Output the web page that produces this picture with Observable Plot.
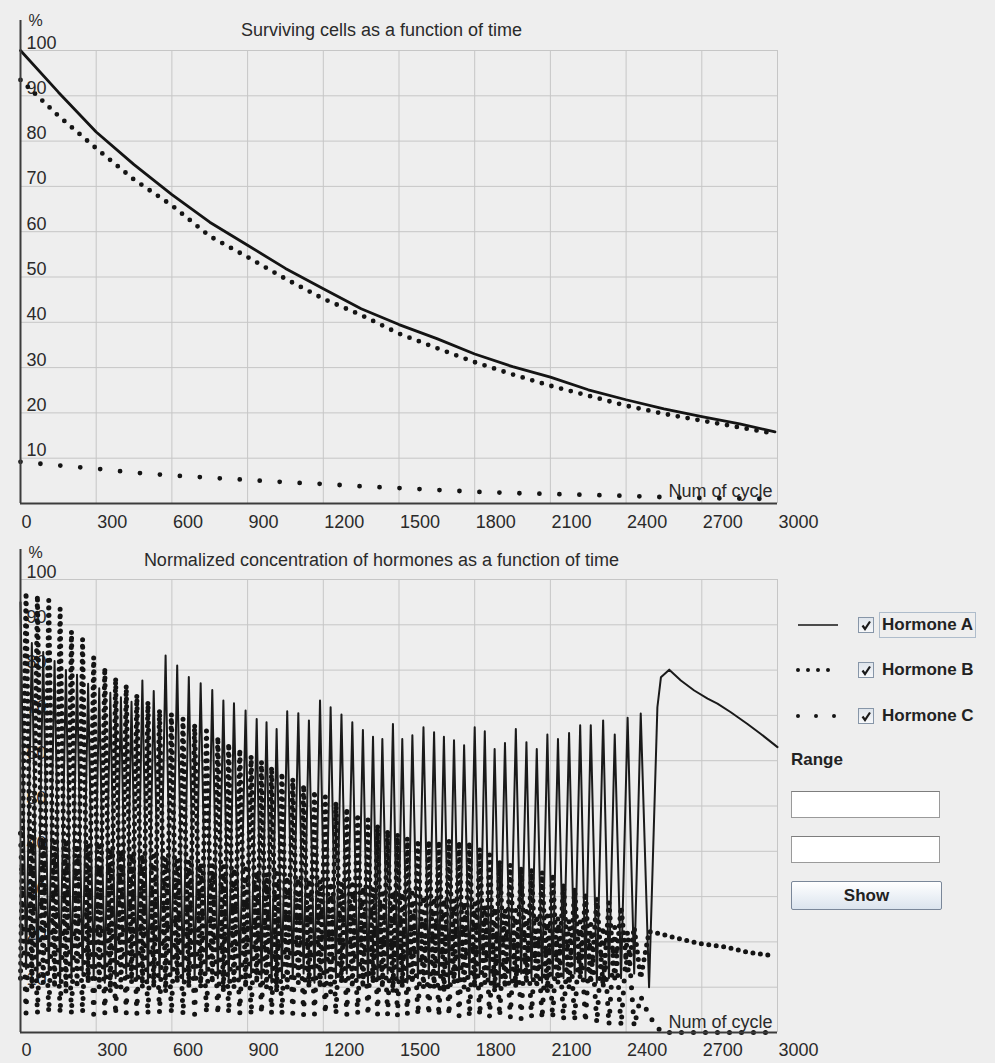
<!DOCTYPE html>
<html><head><meta charset="utf-8">
<script src="https://cdn.jsdelivr.net/npm/d3@7"></script>
<script src="https://cdn.jsdelivr.net/npm/@observablehq/plot@0.6"></script>
<style>
html,body{margin:0;padding:0;background:#eeeeee;}
#root{position:relative;width:995px;height:1063px;overflow:hidden;background:#eeeeee;font-family:"Liberation Sans",Arial,sans-serif;color:#222;}
#top,#bottom{position:absolute;left:0;}
#top{top:0}
#bottom{top:530px}
.abs{position:absolute;}
.lbl{font-weight:bold;font-size:17px;line-height:24px;white-space:nowrap;color:#222;}
.chk{position:absolute;width:16px;height:16px;box-sizing:border-box;border:1px solid #8796a8;background:linear-gradient(#dfe5ec,#f7f8fa);}
.field{position:absolute;left:791px;width:149px;height:27px;box-sizing:border-box;border:1px solid #9a9a9a;border-top-color:#7d7d7d;background:#fff;}
.btn{position:absolute;left:791px;top:881px;width:151px;height:29px;box-sizing:border-box;border:1px solid #7a8799;border-radius:2px;background:linear-gradient(#ffffff,#dbe4ee);text-align:center;font-weight:bold;font-size:17px;line-height:27px;color:#222;}
</style></head><body><div id="root">
<div id="top"></div>
<div id="bottom"></div>
</div>
<script>
// ---------- axes ----------
const xTicks = [0, 300, 600, 900, 1200, 1500, 1800, 2100, 2400, 2700, 3000];
const yTicks = [10, 20, 30, 40, 50, 60, 70, 80, 90, 100];

// ---------- top chart: surviving cells ----------
const cellCycles = [0, 150, 300, 450, 600, 750, 900, 1050, 1200, 1350, 1500, 1650, 1800, 1950, 2100, 2250, 2400, 2550, 2700, 2850, 2990];
const cellsA = [100, 90.8, 82.0, 74.8, 68.2, 62.1, 57.0, 51.9, 47.4, 43.0, 39.5, 36.4, 33.0, 30.2, 27.9, 25.1, 22.9, 20.9, 19.2, 17.6, 15.8];
const cellsB = [93.5, 85.6, 78.4, 71.5, 65.8, 59.0, 54.4, 49.6, 45.2, 41.6, 37.5, 34.3, 31.2, 28.5, 26.0, 23.8, 21.6, 19.8, 18.3, 16.8, 15.4];
const cellsC = [9.2, 8.4, 7.7, 6.8, 6.2, 5.7, 5.2, 4.7, 4.3, 3.8, 3.4, 3.0, 2.6, 2.3, 2.1, 1.9, 1.7, 1.4, 1.2, 1.1, 1.0];

// ---------- bottom chart: hormones ----------
const peakCycles = [0, 45, 90, 135, 180, 224, 268, 312, 356, 398, 440, 483, 528, 575, 621, 667, 714, 760, 804, 846, 892, 936, 975, 1015, 1057, 1101, 1143, 1187, 1229, 1272, 1315, 1357, 1397, 1434, 1476, 1513, 1553, 1597, 1639, 1678, 1718, 1758, 1800, 1840, 1879, 1920, 1963, 2005, 2046, 2088, 2130, 2174, 2218, 2260, 2309, 2355, 2406, 2458];
const troughCycles = [22, 67, 112, 157, 202, 246, 290, 334, 377, 419, 461, 505, 551, 598, 644, 690, 737, 782, 825, 869, 914, 955, 995, 1036, 1079, 1122, 1165, 1208, 1250, 1293, 1336, 1377, 1415, 1455, 1494, 1533, 1575, 1618, 1658, 1698, 1738, 1779, 1820, 1859, 1899, 1941, 1984, 2025, 2067, 2109, 2152, 2196, 2239, 2284, 2332, 2380, 2432, 2491];

const hormoneAPeaks = [95, 86, 84, 82, 80, 79, 77, 76, 75, 74, 73, 77.7, 75.4, 83.2, 81.0, 78.5, 77.1, 75.6, 73.3, 72.7, 71.1, 69.2, 68.5, 67.0, 70.9, 70.5, 68.9, 73.3, 71.8, 70.2, 68.5, 66.8, 65.3, 64.8, 68.1, 64.8, 65.6, 67.4, 66.3, 65.3, 64.5, 63.4, 67.4, 66.5, 62.6, 63.9, 67.0, 64.1, 62.6, 65.8, 64.8, 66.1, 67.8, 67.8, 68.9, 65.8, 69.5, 70.4];
const hormoneATroughs = [14, 12, 13, 11, 12, 13, 12, 11, 12, 13, 12, 11, 12, 13, 11, 12, 13, 12, 11, 12, 13, 12, 11, 12, 12, 13, 11, 12, 12, 13, 12, 11, 12, 13, 12, 11, 12, 12, 13, 11, 12, 12, 13, 12, 11, 12, 13, 12, 11, 12, 12, 13, 12, 11, 12, 12, 13, 10];
const hormoneATailCycles = [2524, 2538, 2571, 2617, 2670, 2723, 2762, 2815, 2881, 2934, 3000];
const hormoneATailValues = [71.8, 78.4, 80.1, 77.7, 75.5, 73.7, 72.6, 70.7, 68.1, 65.9, 63.0];

const hormoneBPeaks = [97.2, 96.5, 95.4, 93.5, 88.5, 86.8, 82.8, 80.5, 78.3, 76.6, 74.5, 73.0, 71.2, 70.3, 69.3, 68.0, 66.6, 65.2, 63.8, 62.5, 61.0, 59.8, 58.6, 57.3, 56.0, 54.6, 53.3, 52.0, 50.8, 49.5, 48.2, 47.0, 45.8, 44.6, 43.8, 42.9, 42.5, 42.3, 42.2, 42.4, 42.1, 42.0, 40.5, 39.2, 37.9, 37.0, 36.5, 36.0, 35.4, 35.0, 32.8, 31.8, 30.8, 29.6, 28.6, 27.7, 23.2, 22.3];
const hormoneBTroughs = [12, 10, 11, 10, 9, 10, 11, 10, 9, 10, 11, 10, 10, 9, 11, 10, 10, 11, 9, 10, 10, 11, 10, 9, 10, 11, 10, 10, 9, 11, 10, 10, 11, 10, 9, 10, 11, 10, 10, 9, 11, 10, 10, 11, 9, 10, 10, 11, 10, 9, 11, 10, 12, 11, 10, 12, 13, 12];
const hormoneBTailCycles = [2525, 2604, 2696, 2802, 2881, 2974];
const hormoneBTailValues = [21.9, 20.8, 19.6, 18.8, 17.7, 17.0];

const hormoneCPeaks = [44, 43.5, 43.2, 42.6, 42.3, 41.8, 41.5, 41.0, 40.6, 40.2, 39.8, 39.5, 39.0, 38.7, 38.3, 38.0, 37.6, 37.3, 36.9, 36.6, 36.2, 35.9, 35.5, 35.2, 34.8, 34.5, 34.2, 33.8, 33.5, 33.2, 32.9, 32.5, 32.2, 31.9, 31.5, 31.2, 30.9, 30.5, 30.2, 29.8, 29.5, 29.1, 28.7, 28.3, 27.9, 27.5, 27.1, 26.7, 26.3, 25.9, 25.5, 25.0, 24.6, 24.2, 23.7, 23.2, 22.5, 8];
const hormoneCTroughs = [4.2, 4.0, 4.3, 4.1, 3.9, 4.2, 4.0, 4.1, 3.8, 4.2, 4.0, 3.9, 4.2, 4.1, 3.8, 4.0, 4.2, 3.9, 4.1, 4.0, 3.8, 4.1, 4.0, 3.9, 4.2, 3.8, 4.0, 4.1, 3.9, 3.8, 4.0, 3.7, 3.9, 3.8, 3.6, 3.9, 3.7, 3.8, 3.5, 3.7, 3.6, 3.4, 3.6, 3.3, 3.5, 3.2, 3.0, 3.3, 2.9, 3.1, 2.7, 2.5, 2.2, 2.0, 1.6, 1.4, 1.3, 3.7];
const hormoneCTailCycles = [2540, 2990];
const hormoneCTailValues = [0, 0];

// ---------- build tables ----------
const rows = (c, v) => c.map((cycle, i) => ({cycle, value: v[i]}));
function alternate(c1, v1, c2, v2) {
  const out = [];
  c1.forEach((c, i) => { out.push({cycle: c, value: v1[i]}); out.push({cycle: c2[i], value: v2[i]}); });
  return out;
}
const hormoneA = alternate(peakCycles, hormoneAPeaks, troughCycles, hormoneATroughs).concat(rows(hormoneATailCycles, hormoneATailValues));
const hormoneB = alternate(peakCycles, hormoneBTroughs, troughCycles, hormoneBPeaks).concat(rows(hormoneBTailCycles, hormoneBTailValues));
const hormoneC = alternate(peakCycles, hormoneCPeaks, troughCycles, hormoneCTroughs).concat(rows(hormoneCTailCycles, hormoneCTailValues));

const INK = "#141414";
const FONT = "Liberation Sans, Arial, sans-serif";

function frame(o) {
  return Plot.plot({
    width: 830, height: o.height,
    marginLeft: 20, marginRight: 53, marginTop: o.mt, marginBottom: o.mb,
    x: {domain: [0, 3000], axis: null},
    y: {domain: [0, 100], axis: null},
    style: {background: "transparent", fontFamily: FONT, color: "#222", overflow: "visible"},
    marks: [
      Plot.gridX(xTicks, {stroke: "#c6c6c6", strokeOpacity: 1}),
      Plot.gridY(yTicks, {stroke: "#c6c6c6", strokeOpacity: 1}),
      Plot.text(yTicks, {y: d => d, text: d => String(d), frameAnchor: "left", textAnchor: "start", lineAnchor: "bottom", dx: 6, dy: -2, fontSize: 18, fill: "#2a2a2a"}),
      ...o.data,
      Plot.ruleY([0], {stroke: "#3c3c3c", strokeWidth: 2}),
      Plot.ruleX([0], {stroke: "#3c3c3c", strokeWidth: 2, insetTop: -30}),
      Plot.text(xTicks, {x: d => d, text: d => String(d), frameAnchor: "bottom", textAnchor: "start", lineAnchor: "bottom", dx: 1, dy: o.tickDy, fontSize: 18, fill: "#2a2a2a"}),
      Plot.text([o.title], {frameAnchor: "top-left", textAnchor: "middle", lineAnchor: "bottom", dx: 361, dy: o.titleDy, fontSize: 18, fill: "#2a2a2a"}),
      Plot.text(["%"], {frameAnchor: "top-left", textAnchor: "start", lineAnchor: "bottom", dx: 8, dy: o.pctDy, fontSize: 16, fill: "#2a2a2a"}),
      Plot.text(["Num of cycle"], {frameAnchor: "bottom-right", textAnchor: "end", lineAnchor: "bottom", dx: -5, dy: o.numDy, fontSize: 18, fill: "#2a2a2a"})
    ]
  });
}

const topChart = frame({
  height: 530, mt: 50, mb: 27, tickDy: 24, titleDy: -15, pctDy: -25, numDy: -7,
  title: "Surviving cells as a function of time",
  data: [
    Plot.line(rows(cellCycles, cellsC), {x: "cycle", y: "value", stroke: INK, strokeWidth: 4.8, strokeDasharray: "0 20", strokeLinecap: "round"}),
    Plot.line(rows(cellCycles, cellsB), {x: "cycle", y: "value", stroke: INK, strokeWidth: 4.8, strokeDasharray: "0 10", strokeLinecap: "round"}),
    Plot.line(rows(cellCycles, cellsA), {x: "cycle", y: "value", stroke: INK, strokeWidth: 2.8})
  ]
});
document.getElementById("top").append(topChart);

const bottomChart = frame({
  height: 533, mt: 49, mb: 31, tickDy: 23, titleDy: -14, pctDy: -22, numDy: -5,
  title: "Normalized concentration of hormones as a function of time",
  data: [
    Plot.line(hormoneC, {x: "cycle", y: "value", stroke: INK, strokeWidth: 5, strokeDasharray: "0 12", strokeLinecap: "round"}),
    Plot.line(hormoneB, {x: "cycle", y: "value", stroke: INK, strokeWidth: 5, strokeDasharray: "0 7.5", strokeLinecap: "round"}),
    Plot.line(hormoneA, {x: "cycle", y: "value", stroke: "#1a1a1a", strokeWidth: 2})
  ]
});
document.getElementById("bottom").append(bottomChart);

// ---------- right-side legend & controls ----------
const legendNames = ["Hormone A", "Hormone B", "Hormone C"];
const legendDash = ["", "0 10", "0 18"];
const legendY = [625, 670, 716];
const root = document.getElementById("root");
legendNames.forEach((name, i) => {
  const cy = legendY[i];
  const s = d3.create("svg").attr("class", "abs").attr("width", 48).attr("height", 20)
    .style("left", "794px").style("top", (cy - 10) + "px");
  s.append("line").attr("x1", 4).attr("x2", 44).attr("y1", 10).attr("y2", 10)
    .attr("stroke", INK)
    .attr("stroke-width", legendDash[i] ? 4 : 1.6)
    .attr("stroke-linecap", legendDash[i] ? "round" : "butt")
    .attr("stroke-dasharray", legendDash[i] || null);
  root.append(s.node());
  const c = document.createElement("div");
  c.className = "chk"; c.style.left = "858px"; c.style.top = (cy - 8) + "px";
  c.innerHTML = '<svg width="14" height="14" style="position:absolute;left:0;top:0"><path d="M3.5 7.5 L6 11 L11 3.5" fill="none" stroke="#1a1a1a" stroke-width="2.2"/></svg>';
  root.append(c);
  const l = document.createElement("div");
  l.className = "abs lbl";
  l.textContent = name;
  l.style.left = (i === 0 ? 879 : 882) + "px";
  l.style.top = (cy - 12) + "px";
  if (i === 0) { l.style.border = "1px solid #aebccb"; l.style.padding = "0 2px"; l.style.top = (cy - 13) + "px"; }
  root.append(l);
});
const rng = document.createElement("div");
rng.className = "abs lbl"; rng.textContent = "Range"; rng.style.left = "791px"; rng.style.top = "748px";
root.append(rng);
[791, 836].forEach(t => { const f = document.createElement("div"); f.className = "field"; f.style.top = t + "px"; root.append(f); });
const b = document.createElement("div"); b.className = "btn"; b.textContent = "Show"; root.append(b);
</script>
</body></html>
